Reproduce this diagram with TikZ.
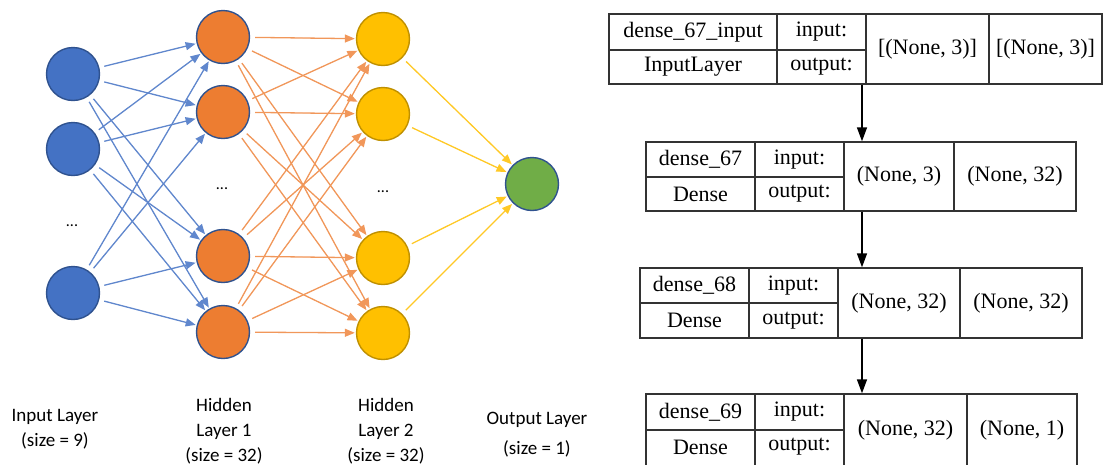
\documentclass[tikz,border=0pt]{standalone}
\usepackage{fontspec}
\setmainfont{Liberation Serif}
\newfontfamily\lblfont{Carlito}
\usetikzlibrary{arrows.meta}
\definecolor{cblue}{HTML}{4472C4}
\definecolor{cblueb}{HTML}{2F528F}
\definecolor{corange}{HTML}{ED7D31}
\definecolor{cyellow}{HTML}{FFC000}
\definecolor{cyellowb}{HTML}{BF9000}
\definecolor{cgreen}{HTML}{70AD47}
\definecolor{kline}{HTML}{333333}
\begin{document}
\begin{tikzpicture}[x=1pt,y=-1pt,
  neuron/.style={circle,minimum size=53pt,inner sep=0pt,line width=1.4pt},
  inn/.style={neuron,fill=cblue,draw=cblueb},
  hidA/.style={neuron,fill=corange,draw=cblueb},
  hidB/.style={neuron,fill=cyellow,draw=cyellowb},
  outn/.style={neuron,fill=cgreen,draw=cblueb},
  edge/.style={line width=1.3pt,shorten <=5pt,shorten >=1pt,-{Triangle[length=10pt,width=8pt]}},
  bedge/.style={edge,draw=cblue!85,fill=cblue},
  oedge/.style={edge,draw=corange!80,fill=corange},
  yedge/.style={edge,draw=cyellow!85,fill=cyellow},
  dots/.style={font=\lblfont\fontsize{16}{16}\selectfont,anchor=base},
  lbl/.style={font=\lblfont\fontsize{19}{25}\selectfont,align=center},
  kbox/.style={draw=kline,line width=1.4pt,inner sep=0pt},
  kline/.style={draw=kline,line width=1.4pt},
  ktxt/.style={font=\fontsize{22}{26}\selectfont,inner sep=0pt},
  karrow/.style={line width=1.5pt,draw=black,-{Triangle[length=14pt,width=10pt]}}
]
\useasboundingbox (0,0) rectangle (1104,464);

% ---------- network ----------
\node[inn] (i1) at (73,74) {};
\node[inn] (i2) at (73,149) {};
\node[inn] (i3) at (73,293) {};
\node[dots] (di) at (72,226) {...};

\node[hidA] (h1) at (223,37) {};
\node[hidA] (h2) at (223,112) {};
\node[hidA] (h3) at (223,256) {};
\node[hidA] (h4) at (223,332) {};
\node[dots] (dh1) at (222,189) {...};

\node[hidB] (g1) at (383,39) {};
\node[hidB] (g2) at (383,114) {};
\node[hidB] (g3) at (383,258) {};
\node[hidB] (g4) at (383,333) {};
\node[dots] (dh2) at (383,192) {...};

\node[outn] (o) at (532,184) {};

\foreach \a in {i1,i2,i3}
  \foreach \b in {h1,h2,h3,h4}
    \draw[bedge] (\a) -- (\b);
\foreach \a in {h1,h2,h3,h4}
  \foreach \b in {g1,g2,g3,g4}
    \draw[oedge] (\a) -- (\b);
\foreach \a in {g1,g2,g3,g4}
  \draw[yedge] (\a) -- (o);

\node[lbl] (l1) at (55,429) {Input Layer\\(size = 9)};
\node[lbl] (l2) at (224,431) {Hidden\\Layer 1\\(size = 32)};
\node[lbl] (l3) at (386,431) {Hidden\\Layer 2\\(size = 32)};
\node[lbl,font=\lblfont\fontsize{19}{30}\selectfont] (l4) at (537,435) {Output Layer\\(size = 1)};

% ---------- keras boxes ----------
% box 1
\node[kbox,minimum width=493pt,minimum height=70pt] (b1) at (855.5,49) {};
\draw[kline] (777,14) -- (777,84) (866,14) -- (866,84) (989,14) -- (989,84) (609,50) -- (866,50);
\node[ktxt] (t1a) at (693,32) {dense\_67\_input};
\node[ktxt] (t1b) at (693,67) {InputLayer};
\node[ktxt] (t1c) at (821.5,32) {input:};
\node[ktxt] (t1d) at (821.5,67) {output:};
\node[ktxt] (t1e) at (927.5,49) {[(None, 3)]};
\node[ktxt] (t1f) at (1045.5,49) {[(None, 3)]};

% box 2
\node[kbox,minimum width=430pt,minimum height=69pt] (b2) at (861,176.5) {};
\draw[kline] (755,142) -- (755,211) (844,142) -- (844,211) (954,142) -- (954,211) (646,177) -- (844,177);
\node[ktxt] (t2a) at (700.5,159.5) {dense\_67};
\node[ktxt] (t2b) at (700.5,194) {Dense};
\node[ktxt] (t2c) at (799.5,159.5) {input:};
\node[ktxt] (t2d) at (799.5,194) {output:};
\node[ktxt] (t2e) at (899,176.5) {(None, 3)};
\node[ktxt] (t2f) at (1015,176.5) {(None, 32)};

% box 3
\node[kbox,minimum width=442pt,minimum height=70pt] (b3) at (861,303) {};
\draw[kline] (749,268) -- (749,338) (838,268) -- (838,338) (960,268) -- (960,338) (640,303) -- (838,303);
\node[ktxt] (t3a) at (694.5,285.5) {dense\_68};
\node[ktxt] (t3b) at (694.5,320.5) {Dense};
\node[ktxt] (t3c) at (793.5,285.5) {input:};
\node[ktxt] (t3d) at (793.5,320.5) {output:};
\node[ktxt] (t3e) at (899,303) {(None, 32)};
\node[ktxt] (t3f) at (1021,303) {(None, 32)};

% box 4
\node[kbox,minimum width=431pt,minimum height=72pt] (b4) at (861.5,430) {};
\draw[kline] (755,394) -- (755,466) (844,394) -- (844,466) (967,394) -- (967,466) (646,430) -- (844,430);
\node[ktxt] (t4a) at (700.5,412) {dense\_69};
\node[ktxt] (t4b) at (700.5,447) {Dense};
\node[ktxt] (t4c) at (799.5,412) {input:};
\node[ktxt] (t4d) at (799.5,447) {output:};
\node[ktxt] (t4e) at (905.5,430) {(None, 32)};
\node[ktxt] (t4f) at (1022,430) {(None, 1)};

\coordinate (ax) at (862,0);
\draw[karrow] (b1.south -| ax) -- (b2.north -| ax);
\draw[karrow] (b2.south -| ax) -- (b3.north -| ax);
\draw[karrow] (b3.south -| ax) -- (b4.north -| ax);
\end{tikzpicture}
\end{document}
